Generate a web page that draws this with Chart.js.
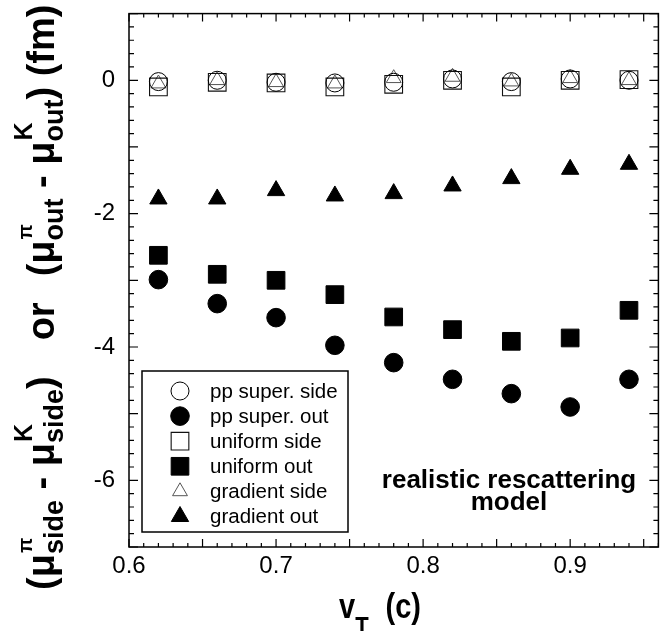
<!DOCTYPE html>
<html><head><meta charset="utf-8">
<script src="https://cdn.jsdelivr.net/npm/chart.js@4/dist/chart.umd.min.js"></script>
<style>html,body{margin:0;padding:0;background:#fff}#wrap{width:672px;height:631px;position:relative}</style>
</head><body><div id="wrap"><canvas id="c" width="672" height="631"></canvas></div>
<script>
// ---- data ----
const vT = [0.62, 0.66, 0.70, 0.74, 0.78, 0.82, 0.86, 0.90, 0.94];
const ppSuperSide = [-0.02, 0.00, -0.03, -0.04, -0.03, 0.02, -0.02, 0.02, 0.00];
const ppSuperOut  = [-2.99, -3.35, -3.56, -3.975, -4.235, -4.485, -4.70, -4.90, -4.485];
const uniformSide = [-0.10, -0.03, -0.04, -0.10, -0.06, 0.00, -0.10, 0.00, 0.01];
const uniformOut  = [-2.625, -2.91, -3.00, -3.215, -3.55, -3.74, -3.915, -3.865, -3.45];
const gradientSide = [-0.05, 0.00, -0.03, -0.05, 0.03, 0.05, -0.02, 0.03, 0.00];
const gradientOut  = [-1.78, -1.78, -1.655, -1.735, -1.70, -1.585, -1.475, -1.335, -1.26];
const xTickValues = [0.6, 0.7, 0.8, 0.9];
const yTickValues = [0, -2, -4, -6];
const seriesLabels = ['pp super. side', 'pp super. out', 'uniform side', 'uniform out', 'gradient side', 'gradient out'];
const noteLines = ['realistic rescattering', 'model'];

const FONT = "'Liberation Sans', Arial, Helvetica, sans-serif";

function pts(ys) { return vT.map((x, i) => ({x: x, y: ys[i]})); }

const styles = [
  {pointStyle: 'circle',   radius: 9,    fill: false, color: '#000', bw: 1},
  {pointStyle: 'circle',   radius: 9.3,  fill: true,  color: '#000', bw: 1},
  {pointStyle: 'rect',     radius: 12.5, fill: false, color: '#111', bw: 1.1},
  {pointStyle: 'rect',     radius: 12.5, fill: true,  color: '#000', bw: 1},
  {pointStyle: 'triangle', radius: 8.6,  fill: false, color: '#555', bw: 1},
  {pointStyle: 'triangle', radius: 10,   fill: true,  color: '#000', bw: 1}
];
const seriesData = [ppSuperSide, ppSuperOut, uniformSide, uniformOut, gradientSide, gradientOut];

const datasets = seriesData.map((d, i) => ({
  label: seriesLabels[i],
  data: pts(d),
  pointStyle: styles[i].pointStyle,
  pointRadius: styles[i].radius,
  pointHoverRadius: styles[i].radius,
  pointBorderWidth: styles[i].bw,
  pointBorderColor: styles[i].color,
  pointBackgroundColor: styles[i].fill ? styles[i].color : 'rgba(0,0,0,0)',
  showLine: false
}));

function drawMarker(ctx, st, x, y) {
  const r = st.radius;
  ctx.save();
  ctx.beginPath();
  if (st.pointStyle === 'circle') {
    ctx.arc(x, y, r, 0, Math.PI * 2);
  } else if (st.pointStyle === 'rect') {
    const s = Math.SQRT1_2 * r;
    ctx.rect(x - s, y - s, 2 * s, 2 * s);
  } else {
    let rad = 0;
    ctx.moveTo(x + Math.sin(rad) * r, y - Math.cos(rad) * r);
    rad += 2 * Math.PI / 3;
    ctx.lineTo(x + Math.sin(rad) * r, y - Math.cos(rad) * r);
    rad += 2 * Math.PI / 3;
    ctx.lineTo(x + Math.sin(rad) * r, y - Math.cos(rad) * r);
    ctx.closePath();
  }
  if (st.fill) { ctx.fillStyle = st.color; ctx.fill(); }
  ctx.lineWidth = st.bw; ctx.strokeStyle = st.color; ctx.stroke();
  ctx.restore();
}

// rich text: segments drawn along +x from (0,0) baseline
function drawRich(ctx, segs) {
  let x = 0;
  segs.forEach(s => {
    if (s.gap) { x += s.gap; return; }
    if (s.stack) {
      let w = 0;
      s.stack.forEach(p => {
        ctx.font = 'bold ' + p.size + 'px ' + FONT;
        ctx.fillText(p.t, x + (p.dx || 0), p.dy);
        w = Math.max(w, ctx.measureText(p.t).width + (p.dx || 0));
      });
      x += w;
    } else {
      ctx.font = 'bold ' + s.size + 'px ' + FONT;
      ctx.fillText(s.t, x, s.dy || 0);
      x += ctx.measureText(s.t).width;
    }
  });
  return x;
}

const framePlugin = {
  id: 'frame',
  beforeDatasetsDraw(chart) {
    const {ctx, chartArea: a, scales: {x, y}} = chart;
    ctx.save();
    ctx.strokeStyle = '#000';
    ctx.lineWidth = 1.5;
    ctx.strokeRect(a.left, a.top, a.right - a.left, a.bottom - a.top);
    ctx.lineWidth = 1.2;
    ctx.beginPath();
    for (let i = 60; i <= 96; i++) {
      const px = x.getPixelForValue(i / 100);
      const len = (i % 5 === 0) ? 8 : 4;
      ctx.moveTo(px, a.bottom); ctx.lineTo(px, a.bottom - len);
      ctx.moveTo(px, a.top); ctx.lineTo(px, a.top + len);
    }
    for (let j = -35; j <= 5; j++) {
      const py = y.getPixelForValue(j / 5);
      const len = (j % 5 === 0) ? 9 : 5;
      ctx.moveTo(a.left, py); ctx.lineTo(a.left + len, py);
      ctx.moveTo(a.right, py); ctx.lineTo(a.right - len, py);
    }
    ctx.stroke();
    ctx.restore();
  },
  afterDraw(chart) {
    const {ctx} = chart;
    ctx.save();
    // legend box
    ctx.lineWidth = 1.5;
    ctx.strokeStyle = '#000';
    ctx.fillStyle = '#fff';
    ctx.fillRect(142, 371, 206, 161);
    ctx.strokeRect(142, 371, 206, 161);
    ctx.fillStyle = '#000';
    ctx.font = '20.5px ' + FONT;
    ctx.textBaseline = 'middle';
    ctx.textAlign = 'left';
    seriesLabels.forEach((lab, i) => {
      const yy = 391 + i * 25.1;
      drawMarker(ctx, styles[i], 180, yy);
      ctx.fillStyle = '#000';
      ctx.fillText(lab, 210, yy + 1);
    });
    // note
    ctx.textBaseline = 'alphabetic';
    ctx.textAlign = 'center';
    ctx.font = 'bold 26px ' + FONT;
    ctx.fillText(noteLines[0], 509, 488);
    ctx.fillText(noteLines[1], 509, 510);
    ctx.textAlign = 'left';
    // x title
    ctx.save();
    ctx.translate(339, 618);
    ctx.scale(1, 1.18);
    drawRich(ctx, [
      {t: 'v', size: 29},
      {t: 'T', size: 22, dy: 14},
      {gap: 17},
      {t: '(c)', size: 29}
    ]);
    ctx.restore();
    // y title
    ctx.save();
    ctx.translate(54, 590);
    ctx.rotate(-Math.PI / 2);
    drawRich(ctx, [
      {t: '(\u03bc', size: 38},
      {stack: [{t: '\u03c0', size: 20, dy: -22, dx: 1}, {t: 'side', size: 27, dy: 9}]},
      {t: ' - \u03bc', size: 38},
      {stack: [{t: 'K', size: 25, dy: -22, dx: 1}, {t: 'side', size: 27, dy: 9}]},
      {t: ')', size: 38},
      {gap: 36},
      {t: 'or', size: 38},
      {gap: 26},
      {t: '(\u03bc', size: 38},
      {stack: [{t: '\u03c0', size: 20, dy: -22, dx: 1}, {t: 'out', size: 27, dy: 9}]},
      {t: ' - \u03bc', size: 38},
      {stack: [{t: 'K', size: 25, dy: -22, dx: 1}, {t: 'out', size: 27, dy: 9}]},
      {t: ') (fm)', size: 38}
    ]);
    ctx.restore();
    ctx.restore();
  }
};

function noPad(s) { s.paddingTop = 0; s.paddingBottom = 0; s.paddingLeft = 0; s.paddingRight = 0; }

new Chart(document.getElementById('c'), {
  type: 'scatter',
  data: {datasets: datasets},
  options: {
    responsive: false,
    animation: false,
    devicePixelRatio: 1,
    layout: {padding: {top: 13, right: 9, left: 0, bottom: 0}},
    plugins: {legend: {display: false}, tooltip: {enabled: false}},
    scales: {
      x: {
        type: 'linear', min: 0.6, max: 0.96,
        afterBuildTicks: s => { s.ticks = xTickValues.map(v => ({value: v})); },
        afterFit: s => { s.height = 84; noPad(s); },
        grid: {display: false, drawTicks: false},
        border: {display: false},
        ticks: {color: '#000', font: {family: FONT, size: 24}, padding: 5, maxRotation: 0, autoSkip: false,
                callback: v => Number(v).toFixed(1)}
      },
      y: {
        type: 'linear', min: -7, max: 1,
        afterBuildTicks: s => { s.ticks = yTickValues.map(v => ({value: v})); },
        afterFit: s => { s.width = 129; noPad(s); },
        grid: {display: false, drawTicks: false},
        border: {display: false},
        ticks: {color: '#000', font: {family: FONT, size: 24}, padding: 14, autoSkip: false,
                callback: v => String(v)}
      }
    }
  },
  plugins: [framePlugin]
});
</script>
</body></html>
